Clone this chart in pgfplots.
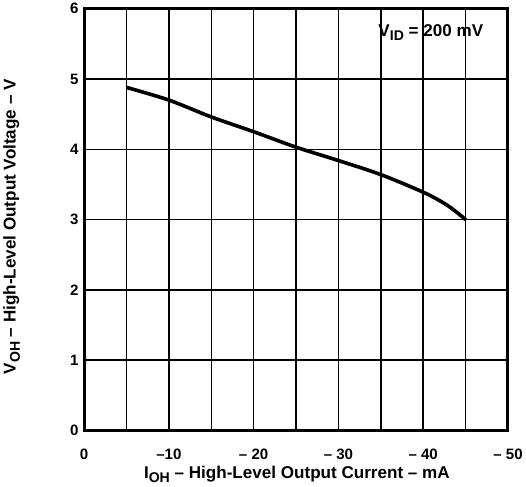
\documentclass[border=0pt]{standalone}
\usepackage{fontspec}
\setmainfont{Liberation Sans}
\usepackage{pgfplots}
\pgfplotsset{compat=1.18}

\newcommand{\sub}[1]{\raisebox{-0.45ex}{\fontsize{14}{14}\selectfont #1}}

\begin{document}
\begin{tikzpicture}
\begin{axis}[
    scale only axis,
    width=422pt, height=420pt,
    x dir=reverse,
    xmin=-50, xmax=0, ymin=0, ymax=6,
    xtick={0,-10,-20,-30,-40,-50},
    xticklabels={\textbf{0},\textbf{--10},\textbf{-- 20},\textbf{-- 30},\textbf{-- 40},\textbf{-- 50}},
    minor xtick={-5,-15,-25,-35,-45},
    ytick={0,1,2,3,4,5,6},
    yticklabel={\textbf{\pgfmathprintnumber{\tick}}},
    grid=both,
    major grid style={black, line width=1.5pt},
    minor grid style={black, line width=1.5pt},
    major tick length=0pt, minor tick length=0pt,
    axis line style={black, line width=3pt},
    tick label style={font=\bfseries\fontsize{15}{18}\selectfont},
    xticklabel style={yshift=-15pt},
    yticklabel style={xshift=-2pt},
    /pgf/number format/assume math mode=true,
    label style={font=\bfseries\fontsize{17}{20}\selectfont},
    xlabel={I\sub{OH} -- High-Level Output Current -- mA},
    ylabel={V\sub{OH} -- High-Level Output Voltage -- V},
    xlabel style={at={(axis description cs:0.502,-0.114)}, anchor=base},
    ylabel style={at={(axis description cs:-0.171,0.483)}, anchor=center},
]
\addplot[black, line width=3.6pt, smooth, line cap=butt] coordinates {
    (-5,4.88) (-10,4.70) (-15,4.46) (-20,4.25) (-25,4.03)
    (-30,3.84) (-35,3.64) (-40,3.39) (-42.5,3.23) (-44,3.10) (-45,3.0)
};
\draw[black, line width=3pt] (rel axis cs:0,0) rectangle (rel axis cs:1,1);
\node[font=\bfseries\fontsize{17}{20}\selectfont] at (axis cs:-40.9,5.66) {V\sub{ID} = 200 mV};
\end{axis}
\end{tikzpicture}
\end{document}
